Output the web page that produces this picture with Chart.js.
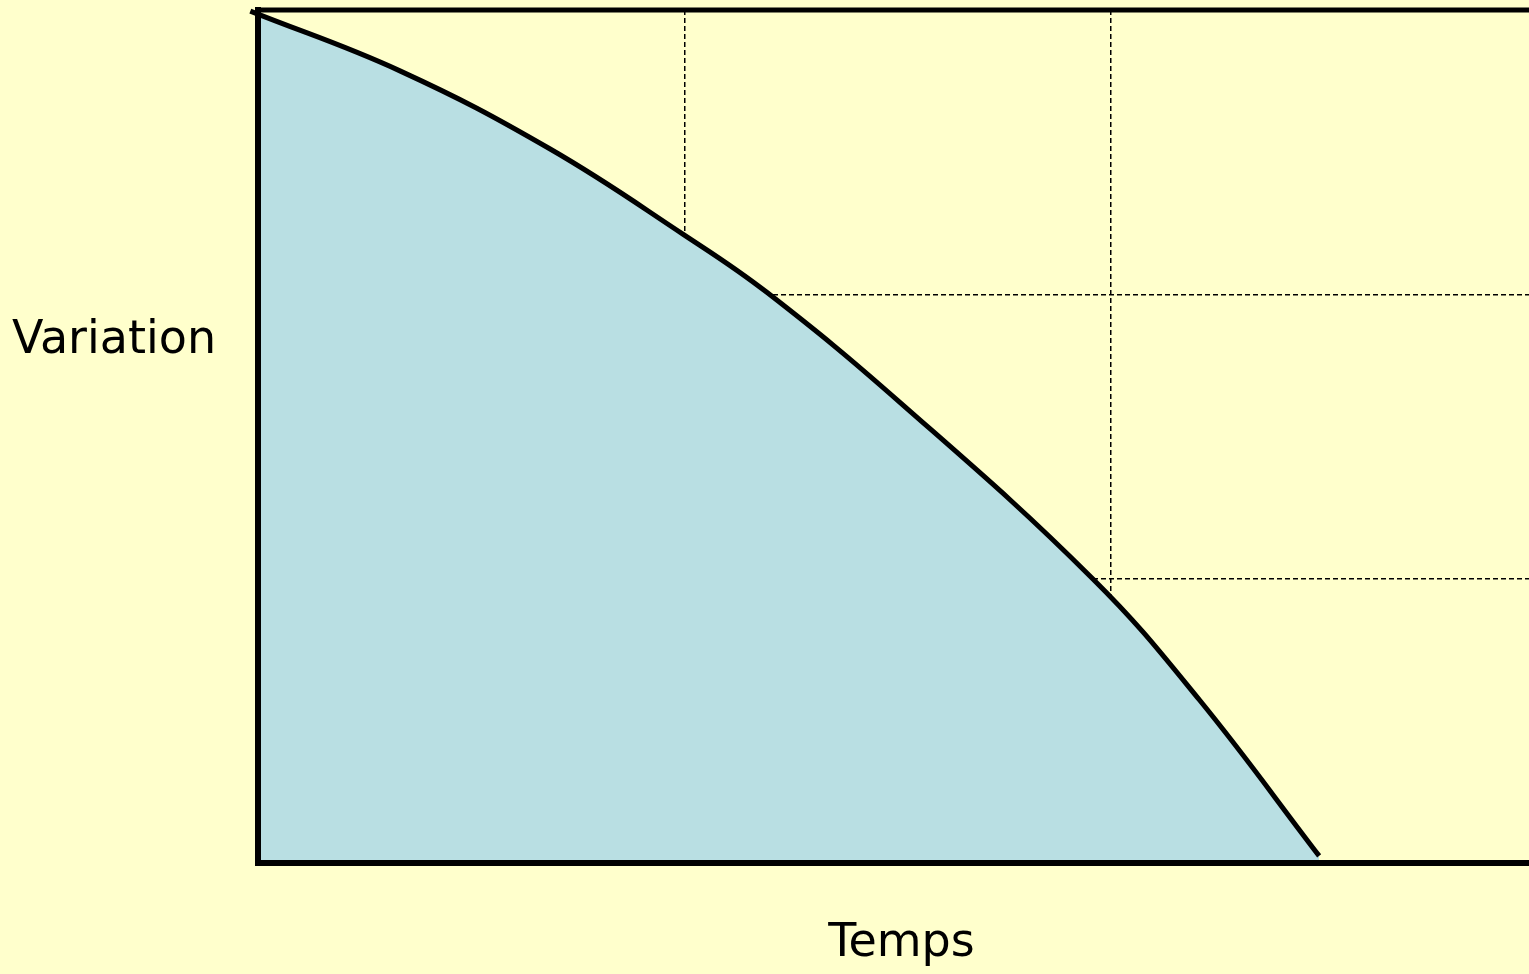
<!DOCTYPE html>
<html>
<head>
<meta charset="utf-8">
<script src="https://cdn.jsdelivr.net/npm/chart.js@4/dist/chart.umd.min.js"></script>
<style>
  html, body { margin: 0; padding: 0; background: #FFFFCC; overflow: hidden; }
  #wrap { position: relative; width: 1529px; height: 974px; }
</style>
</head>
<body>
<div id="wrap"><canvas id="c" width="1529" height="974"></canvas></div>
<script>
// Data
const tempsValues = [-0.018, 0.334, 0.685, 0.997, 1.193, 1.505, 1.957, 2.207, 2.488];
const variationValues = [2.996, 2.785, 2.511, 2.211, 2.007, 1.620, 1.0, 0.574, 0.025];
const xTickValues = [0, 1, 2];
const yTickValues = [0, 1, 2, 3];
const xAxisTitle = "Temps";
const yAxisTitle = "Variation";

const points = tempsValues.map((t, i) => ({ x: t, y: variationValues[i] }));

const titlesPlugin = {
  id: 'titles',
  afterDraw(chart) {
    const { ctx, chartArea } = chart;
    ctx.save();
    ctx.fillStyle = '#000';
    ctx.font = '46px "DejaVu Sans", "Noto Sans", sans-serif';
    ctx.textBaseline = 'middle';
    ctx.textAlign = 'left';
    ctx.fillText(yAxisTitle, 12, 341);
    ctx.textAlign = 'center';
    ctx.fillText(xAxisTitle, (chartArea.left + chartArea.right) / 2 + 8, chartArea.bottom + 81);
    ctx.restore();
  }
};

new Chart(document.getElementById('c'), {
  type: 'scatter',
  data: {
    datasets: [{
      data: points,
      showLine: true,
      borderColor: '#000',
      borderWidth: 5,
      backgroundColor: '#B9DFE3',
      fill: 'origin',
      pointRadius: 0,
      tension: 0.4,
      clip: false
    }]
  },
  options: {
    responsive: false,
    animation: false,
    layout: { padding: { left: 258, top: 10, right: 0, bottom: 111 } },
    plugins: { legend: { display: false }, tooltip: { enabled: false } },
    scales: {
      x: {
        type: 'linear',
        min: 0,
        max: 2.98,
        afterBuildTicks(axis) { axis.ticks = xTickValues.map(v => ({ value: v })); },
        afterFit(axis) { axis.height = 0; },
        ticks: { display: false },
        grid: {
          drawTicks: false,
          color: '#000',
          lineWidth: ctx => (ctx.tick && ctx.tick.value === 0) ? 0 : 1.5
        },
        border: {
          display: true,
          color: '#000',
          width: 6,
          z: 1,
          dash: [5, 3]
        }
      },
      y: {
        type: 'linear',
        min: 0,
        max: 3,
        afterBuildTicks(axis) { axis.ticks = yTickValues.map(v => ({ value: v })); },
        afterFit(axis) { axis.width = 0; },
        ticks: { display: false },
        grid: {
          drawTicks: false,
          color: '#000',
          lineWidth: ctx => (ctx.tick && ctx.tick.value === 0) ? 0 : 1.5
        },
        border: {
          display: true,
          color: '#000',
          width: 6,
          z: 1,
          dash: [5, 3]
        }
      }
    }
  },
  plugins: [titlesPlugin, {
    id: 'topBorder',
    afterDatasetsDraw(chart) {
      const { ctx, chartArea } = chart;
      ctx.save();
      ctx.strokeStyle = '#000';
      ctx.lineWidth = 5;
      ctx.beginPath();
      ctx.moveTo(chartArea.left - 3, chartArea.top);
      ctx.lineTo(chartArea.right, chartArea.top);
      ctx.stroke();
      ctx.restore();
    }
  }]
});
</script>
</body>
</html>
